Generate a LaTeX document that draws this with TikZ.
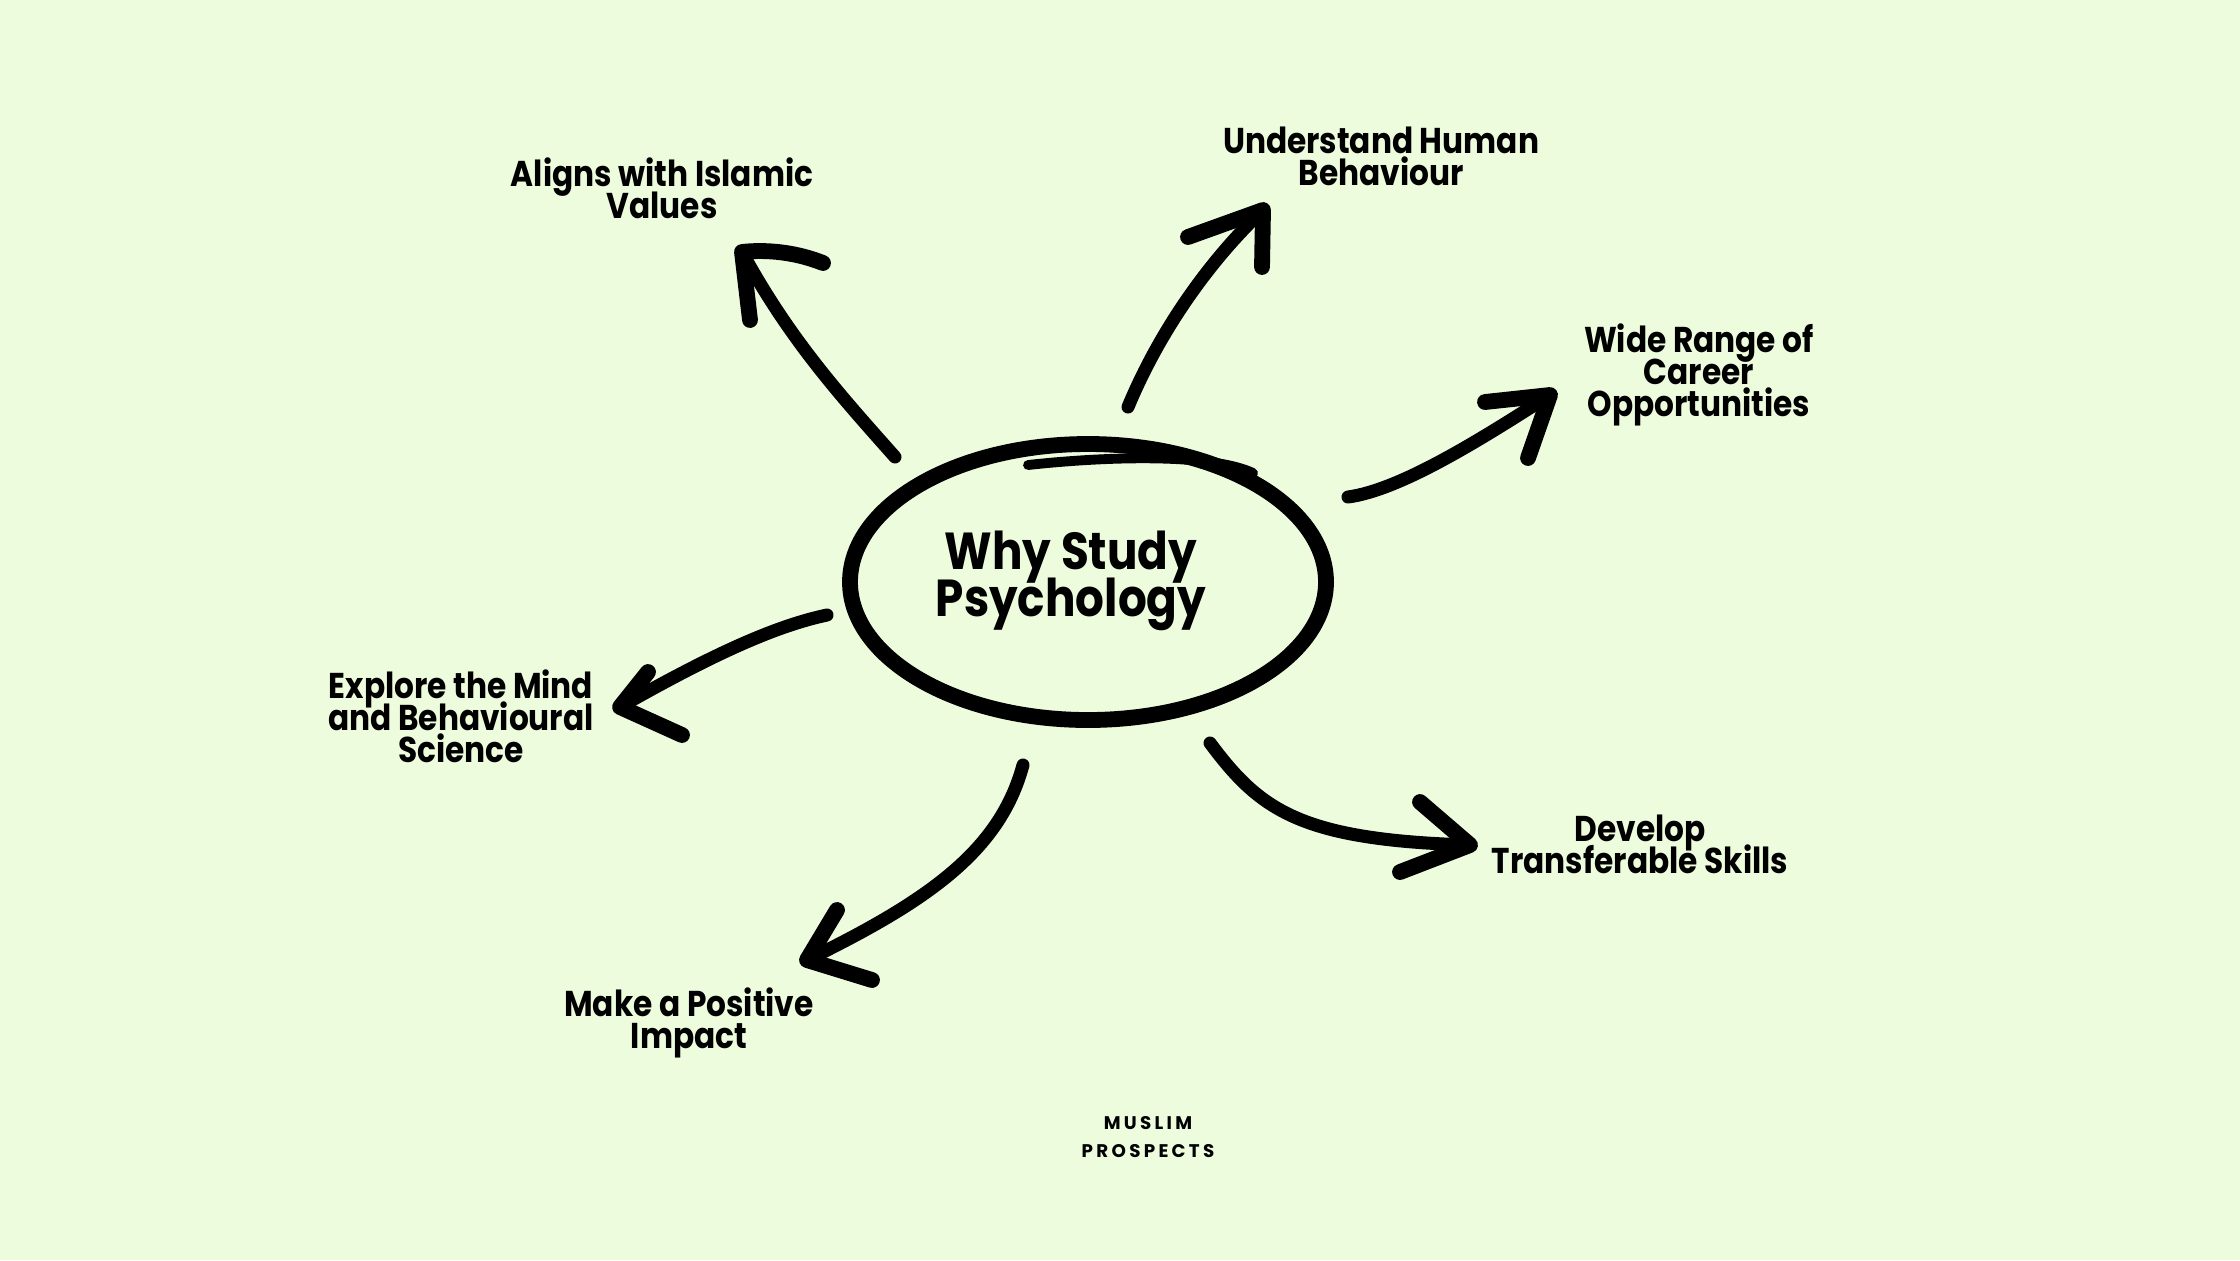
\documentclass[tikz,border=0pt]{standalone}
\usepackage{fontspec}
\setmainfont{Poppins}[FakeStretch=0.87]
\newfontfamily\brandfont{Poppins}[LetterSpace=18]
\usetikzlibrary{calc}
\definecolor{mintbg}{RGB}{238,252,222}

\begin{document}
\lineskiplimit=-20pt
\begin{tikzpicture}[x=0.01cm,y=-0.01cm,
    stroke/.style={line width=3.7pt,line cap=round,line join=round},
    head/.style={line width=4.5pt,line cap=round,line join=round},
    ring/.style={line width=4.5pt},
    topic/.style={align=center,inner sep=0pt,font=\bfseries\fontsize{10.2}{9.1}\selectfont},
    title/.style={align=center,inner sep=0pt,font=\bfseries\fontsize{14.8}{13.3}\selectfont},
    brand/.style={align=center,inner sep=0pt,font=\brandfont\bfseries\fontsize{5.2}{7.7}\selectfont}]

  % ------- background / page size -------
  \fill[mintbg] (0,0) rectangle (2240,1260);
  \useasboundingbox (0,0) rectangle (2240,1260);

  % ------- centre: hand drawn ring -------
  \draw[ring] (1088,582) ellipse [x radius=238, y radius=138];
  \draw[line width=2.8pt,line cap=round] (1028,465) .. controls (1120,455) and (1215,455) .. (1253,473);
  \node[title] (why) at (1071,581) {Why Study\\Psychology};

  % ------- labels round the ring -------
  \node[topic] (islam)   at (662,188)  {Aligns with Islamic\\Values};
  \node[topic] (human)   at (1381,156) {Understand Human\\Behaviour};
  \node[topic] (career)  at (1699,375) {Wide Range of\\Career\\Opportunities};
  \node[topic] (mind)    at (461,716)  {Explore the Mind\\and Behavioural\\Science};
  \node[topic] (skills)  at (1640,844) {Develop\\Transferable Skills};
  \node[topic] (impact)  at (689,1023) {Make a Positive\\Impact};

  \node[brand] (logo) at (1148,1137) {MUSLIM\\PROSPECTS};

  % ------- arrow end points -------
  \coordinate (s1) at (895,457);   \coordinate (t1) at (742,252);
  \coordinate (s2) at (1128,407);  \coordinate (t2) at (1263,210);
  \coordinate (s3) at (1348,497);  \coordinate (t3) at (1550,395);
  \coordinate (s4) at (827,615);   \coordinate (t4) at (620,707);
  \coordinate (s5) at (1023,765);  \coordinate (t5) at (807,960);
  \coordinate (s6) at (1210,743);  \coordinate (t6) at (1470,845);

  % ------- arrows -------
  % aligns with islamic values
  \draw[stroke] (s1) .. controls (840,395) and (790,340) .. (t1);
  \draw[head] (823,263) .. controls (790,250) and (760,250) .. (t1) -- (750,320);
  % understand human behaviour
  \draw[stroke] (s2) .. controls (1160,330) and (1210,260) .. (t2);
  \draw[head] (1188,237) -- (t2) -- (1262,267);
  % wide range of career opportunities
  \draw[stroke] (s3) .. controls (1400,490) and (1480,440) .. (t3);
  \draw[head] (1485,402) -- (t3) -- (1528,458);
  % explore the mind
  \draw[stroke] (s4) .. controls (780,625) and (720,650) .. (t4);
  \draw[head] (648,672) -- (t4) -- (682,735);
  % make a positive impact
  \draw[stroke] (s5) .. controls (1000,850) and (930,900) .. (t5);
  \draw[head] (837,910) -- (t5) -- (872,980);
  % develop transferable skills
  \draw[stroke] (s6) .. controls (1260,810) and (1300,840) .. (t6);
  \draw[head] (1420,802) -- (t6) -- (1400,872);

\end{tikzpicture}
\end{document}
